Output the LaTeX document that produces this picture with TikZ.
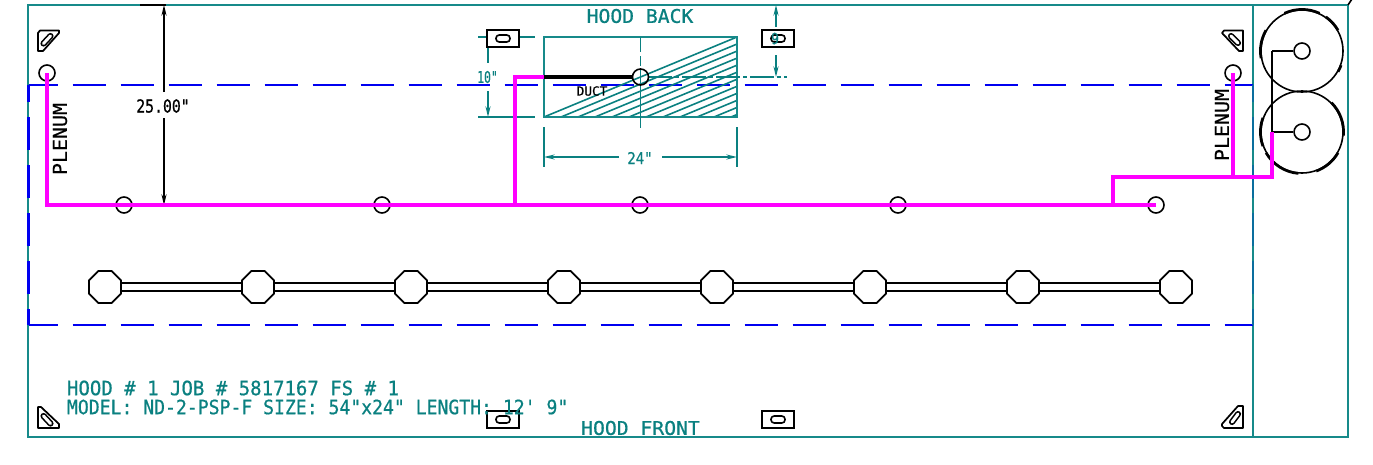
\documentclass[tikz,border=0pt]{standalone}
\usepackage{fontspec}
\usepackage{graphicx}
\setmainfont{DejaVu Sans Mono}
\newfontfamily\cadheavy[FakeBold=0.7]{DejaVu Sans Mono}
\usetikzlibrary{arrows.meta,shapes.geometric,calc}
\definecolor{hoodteal}{HTML}{0A8080}
\definecolor{frameteal}{HTML}{178A8A}
\definecolor{plenumblue}{HTML}{0000F0}
\definecolor{plenummix}{HTML}{0A6E9E}
\definecolor{pipemag}{HTML}{FF00FF}
\newcommand{\cadtext}[3]{\resizebox{#1pt}{#2pt}{\cadheavy #3}}
\tikzset{
  frame/.style={draw=frameteal,line width=1.4pt},
  plenumh/.style={draw=plenumblue,line width=1.4pt,dash pattern=on 24.75pt off 11.25pt,dash phase=3pt},
  plenumv/.style={draw=plenumblue,line width=1.6pt,dash pattern=on 24.75pt off 11.25pt,dash phase=12pt},
  pipe/.style={draw=pipemag,line width=2.3pt,line join=miter},
  blackline/.style={draw=black,line width=1.2pt},
  nozzle/.style={circle,draw=black,line width=1.2pt,minimum size=12pt,inner sep=0pt,fill=none},
  lamp/.style={regular polygon,regular polygon sides=8,draw=black,line width=1.3pt,minimum size=26pt,inner sep=0pt},
  lamptube/.style={draw=black,line width=1.4pt,double=white,double distance=4.4pt},
  fan/.style={circle,draw=black,line width=1.2pt,minimum size=61.5pt,inner sep=0pt},
  fanpart/.style={draw=black,line width=2pt},
  tealdim/.style={draw=hoodteal,line width=1.2pt},
  dimtip/.style={-{Stealth[length=8pt,width=3.8pt]}},
  bracket/.style={draw=black,line width=1.3pt,line join=round},
  slot/.style={draw=black,line width=1.2pt,rounded corners=2.4pt},
  slotbox/.style={draw=black,line width=1.4pt,fill=white,minimum width=24pt,minimum height=12.75pt,inner sep=0pt},
  txt/.style={inner sep=0pt,outer sep=0pt}
}
\begin{document}
\begin{tikzpicture}[x=0.75pt,y=-0.75pt]
\useasboundingbox (0,0) rectangle (1373,464);
% hood outline
\coordinate (tl) at (28,5); \coordinate (tr) at (1348,5);
\coordinate (bl) at (28,437); \coordinate (br) at (1348,437);
\coordinate (dt) at (1253,5); \coordinate (db) at (1253,437);
\coordinate (cap) at (1352,-1);
\draw[frame] (tl) -- (tr) -- (br) -- (bl) -- cycle;
\draw[frame] (dt) -- (db);
\draw[draw=black,line width=1.2pt] (tr) -- (cap);
\draw[draw=black,line width=1.8pt] (140,5) -- (166,5);
% plenum
\coordinate (pa) at (28.5,325); \coordinate (pb) at (28.5,85);
\coordinate (pc) at (1253,85); \coordinate (pd) at (1253,325);
\draw[plenumh] (pb) -- (pc);
\draw[plenumv] (pb) -- (pa);
\draw[plenumh] (pa) -- (pd);
\draw[plenumv,draw=plenummix] (pc) -- (pd);
% duct
\coordinate (d1) at (544,37); \coordinate (d2) at (737,37);
\coordinate (d3) at (737,117); \coordinate (d4) at (544,117);
\begin{scope}
\clip (d1) rectangle (d3);
\foreach \k in {0,...,11}{
  \draw[tealdim] ({544+17*\k},117) -- ++(400,-165.8);
}
\end{scope}
\draw[frame] (d1) rectangle (d3);
\coordinate (cv1) at (640.5,37); \coordinate (cv2) at (640.5,128);
\draw[tealdim] (cv1) -- (640.5,52) (640.5,56) -- (640.5,66) (640.5,70) -- (cv2);
\draw[tealdim,dash pattern=on 18pt off 2.5pt on 2.5pt off 2.5pt] (648,77) -- (787,77);
% right 9 dimension
\coordinate (r1) at (776,5); \coordinate (r2) at (776,77);
\draw[tealdim,dimtip] (776,27) -- (r1);
\draw[tealdim,dimtip] (776,55) -- (r2);
% left 10 dimension
\coordinate (l1) at (478,37); \coordinate (l1b) at (535,37);
\coordinate (l2) at (478,117); \coordinate (l2b) at (535,117);
\draw[tealdim] (l1) -- (l1b);
\draw[tealdim] (l2) -- (l2b);
\draw[tealdim] (488,37) -- (488,63);
\draw[tealdim,dimtip] (488,91) -- (488,117);
\node[txt,text=hoodteal] (ten) at (487.5,77) {\cadtext{15.5}{9}{10"}};
% 24 dimension
\coordinate (w1) at (544,157); \coordinate (w2) at (737,157);
\draw[tealdim] (544,127) -- (544,167);
\draw[tealdim] (737,127) -- (737,167);
\draw[tealdim,dimtip] (619,157) -- (w1);
\draw[tealdim,dimtip] (662,157) -- (w2);
\node[txt,text=hoodteal] (wid) at (640,158) {\cadtext{19}{9}{24"}};
% 25 dimension
\coordinate (h1) at (164,5); \coordinate (h2) at (164,205);
\draw[blackline,dimtip] (164,92) -- (h1);
\draw[blackline,dimtip] (164,118) -- (h2);
\node[txt] (hgt) at (163,106) {\cadtext{40}{10}{25.00"}};
% slot boxes
\foreach \n/\x/\y in {sa/503/38.5,sb/778/38.5,sc/503/419.5,sd/778/419.5}{
  \node[slotbox] (\n) at (\x,\y) {};
  \draw[slot] (\x-7,\y-3.5) rectangle (\x+7,\y+3.5);
}
\node[txt,text=hoodteal] (nine) at (775,38.5) {\cadtext{6}{8.5}{9}};
% corner brackets
\draw[bracket] (38,33) -- (40,30.5) -- (59,30.5) -- (59,33) -- (43,51) -- (38,51) -- cycle;
\draw[bracket] (1222,33) -- (1224,30.5) -- (1243,30.5) -- (1243,51) -- (1239,51) -- cycle;
\draw[bracket] (38,407) -- (41,407) -- (59,424) -- (59,428) -- (38,428) -- cycle;
\draw[bracket] (1222,424) -- (1238,406) -- (1243,406) -- (1243,428) -- (1224,428) -- (1222,426) -- cycle;
\foreach \a/\b/\c/\d in {43.5/43.5/50.5/36,1231/36/1238/43,43.5/416/50.5/423.5,1232/422/1238/414}{
  \draw[draw=black,line width=1.2pt,double=white,double distance=2.2pt,line cap=round] (\a,\b) -- (\c,\d);
}
% lights
\foreach \n/\x in {1/105,2/258,3/411,4/564,5/717,6/870,7/1023,8/1176}{
  \node[lamp] (o\n) at (\x,287) {};
}
\foreach \a/\b in {1/2,2/3,3/4,4/5,5/6,6/7,7/8}{
  \draw[lamptube] (o\a) -- (o\b);
}
% nozzles
\node[nozzle] (nl) at (47,73) {};
\node[nozzle] (nr) at (1233,73) {};
\node[nozzle] (nd) at (640.5,77) {};
\node[nozzle] (n1) at (124,205) {};
\node[nozzle] (n2) at (382,205) {};
\node[nozzle] (n3) at (640,205) {};
\node[nozzle] (n4) at (898,205) {};
\node[nozzle] (n5) at (1156,205) {};
% fans
\node[fan] (f1) at (1302,51) {};
\node[fan] (f2) at (1302,132) {};
\node[nozzle] (h1c) at (1302,51) {};
\node[nozzle] (h2c) at (1302,132) {};
\foreach \f/\p/\q in {f1/65/115,f1/30/55,f1/-30/-20,f1/150/190,f2/-5/45,f2/160/200,f2/-150/-95,f2/-70/-30}{
  \draw[fanpart] (\f.center) ++({-\p}:41.6) arc[start angle={-\p},end angle={-\q},radius=41.6];
}
% pipes
\coordinate (j1) at (47,205);
\coordinate (j2) at (515,205);
\coordinate (j3) at (1113,205);
\coordinate (u1) at (515,77);
\coordinate (u2) at (544,77);
\coordinate (u3) at (1113,177);
\coordinate (u4) at (1272,177);
\coordinate (u5) at (1272,132);
\coordinate (u6) at (1233,177);
\coordinate (u7) at (1272,51);
\draw[blackline] (u7) -- (u5);
\draw[blackline] (u7) -- (h1c);
\draw[blackline] (u5) -- (h2c);
\draw[draw=black,line width=2.3pt] (u2) -- (nd);
\draw[pipe] (nl.center) -- (j1) -- (n5.center);
\draw[pipe] (j2) -- (u1) -- (u2);
\draw[pipe] (j3) -- (u3) -- (u4) -- (u5);
\draw[pipe] (u6) -- (nr.center);
% text
\node[txt,rotate=90] (pl1) at (60,139) {\cadtext{54}{10.5}{PLENUM}};
\node[txt,rotate=90] (pl2) at (1222,125) {\cadtext{54}{10.5}{PLENUM}};
\node[txt] (duct) at (592,91) {\cadtext{23}{7}{DUCT}};
\node[txt,text=hoodteal] (back) at (640,16) {\cadtext{80}{10.5}{HOOD BACK}};
\node[txt,text=hoodteal] (front) at (640.5,428) {\cadtext{89}{10.5}{HOOD FRONT}};
\node[txt,text=hoodteal,anchor=west] (t1) at (67,388) {\cadtext{249}{11}{HOOD \# 1 JOB \# 5817167 FS \# 1}};
\node[txt,text=hoodteal,anchor=west] (t2) at (67,407) {\cadtext{376}{11}{MODEL: ND-2-PSP-F SIZE: 54"x24" LENGTH: 12' 9"}};
\end{tikzpicture}
\end{document}
